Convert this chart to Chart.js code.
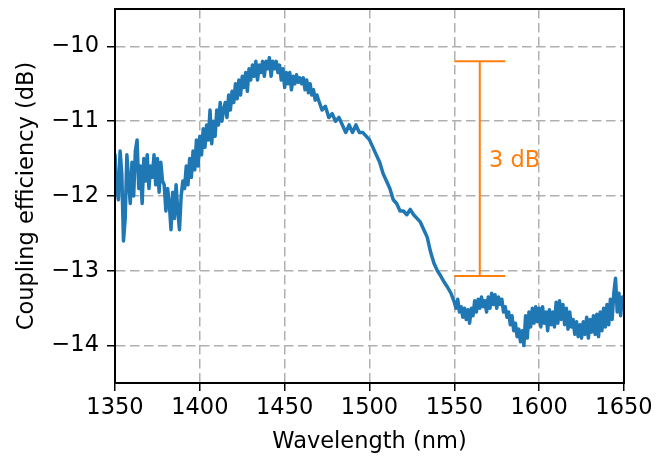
<!DOCTYPE html>
<html>
<head>
<meta charset="utf-8">
<script src="https://cdn.jsdelivr.net/npm/chart.js@4.4.1/dist/chart.umd.min.js"></script>
<style>
  html, body { margin:0; padding:0; background:#fff; }
  #wrap { width:657px; height:457px; }
</style>
</head>
<body>
<div id="wrap"><canvas id="chart"></canvas></div>
<script>
// wavelength (nm): 1 nm steps in the noisy parts, 2 nm on the smooth slope
const wavelength = [
  1350,1351,1352,1353,1354,1355,1356,1357,1358,1359,
  1360,1361,1362,1363,1364,1365,1366,1367,1368,1369,
  1370,1371,1372,1373,1374,1375,1376,1377,1378,1379,
  1380,1381,1382,1383,1384,1385,1386,1387,1388,1389,
  1390,1391,1392,1393,1394,1395,1396,1397,1398,1399,
  1400,1401,1402,1403,1404,1405,1406,1407,1408,1409,
  1410,1411,1412,1413,1414,1415,1416,1417,1418,1419,
  1420,1421,1422,1423,1424,1425,1426,1427,1428,1429,
  1430,1431,1432,1433,1434,1435,1436,1437,1438,1439,
  1440,1441,1442,1443,1444,1445,1446,1447,1448,1449,
  1450,1451,1452,1453,1454,1455,1456,1457,1458,1459,
  1460,1461,1462,1463,1464,1465,1466,1467,1468,1469,
  1470,
  1472,1474,1476,1478,1480,1482,1484,1486,1488,1490,
  1492,1494,1496,1498,1500,1502,1504,1506,1508,1510,
  1512,1514,1516,1518,1520,1522,1524,1526,1528,1530,
  1532,1534,1536,1538,1540,1542,1544,1546,1548,
  1550,1551,1552,1553,1554,1555,1556,1557,1558,1559,
  1560,1561,1562,1563,1564,1565,1566,1567,1568,1569,
  1570,1571,1572,1573,1574,1575,1576,1577,1578,1579,
  1580,1581,1582,1583,1584,1585,1586,1587,1588,1589,
  1590,1591,1592,1593,1594,1595,1596,1597,1598,1599,
  1600,1601,1602,1603,1604,1605,1606,1607,1608,1609,
  1610,1611,1612,1613,1614,1615,1616,1617,1618,1619,
  1620,1621,1622,1623,1624,1625,1626,1627,1628,1629,
  1630,1631,1632,1633,1634,1635,1636,1637,1638,1639,
  1640,1641,1642,1643,1644,1645,1646,1647,1648,1649,
  1650
];
// coupling efficiency (dB)
const coupling = [
  -11.45,-11.9,-12.05,-11.4,-11.7,-12.6,-12.3,-11.45,-11.8,-12.1,
  -11.55,-12.0,-11.4,-11.25,-11.9,-11.6,-12.1,-11.5,-11.8,-11.45,
  -11.9,-11.6,-11.75,-11.45,-11.85,-11.5,-11.95,-11.55,-11.8,-11.85,
  -12.2,-11.9,-12.1,-12.45,-11.95,-12.3,-11.85,-12.2,-12.45,-12.0,
  -11.8,-11.9,-11.6,-11.85,-11.5,-11.75,-11.4,-11.65,-11.25,-11.6,
  -11.2,-11.45,-11.1,-11.35,-11.05,-11.25,-10.85,-11.3,-11.0,-11.2,
  -10.85,-11.05,-10.75,-11.0,-10.85,-10.75,-10.95,-10.65,-10.85,-10.6,
  -10.75,-10.5,-10.7,-10.45,-10.65,-10.4,-10.55,-10.35,-10.6,-10.3,
  -10.45,-10.25,-10.4,-10.2,-10.45,-10.25,-10.35,-10.2,-10.4,-10.2,
  -10.3,-10.15,-10.4,-10.2,-10.3,-10.2,-10.35,-10.25,-10.45,-10.3,
  -10.55,-10.35,-10.5,-10.35,-10.58,-10.4,-10.5,-10.38,-10.48,-10.42,
  -10.5,-10.42,-10.58,-10.45,-10.62,-10.5,-10.65,-10.58,-10.72,-10.65,
  -10.72,
  -10.85,-10.8,-10.95,-10.9,-11.0,-10.95,-11.05,-11.15,-11.05,-11.15,
  -11.05,-11.15,-11.15,-11.2,-11.25,-11.35,-11.45,-11.55,-11.7,-11.8,
  -11.9,-12.05,-12.1,-12.2,-12.2,-12.25,-12.18,-12.25,-12.3,-12.35,
  -12.45,-12.55,-12.75,-12.9,-13.0,-13.07,-13.15,-13.22,-13.3,
  -13.42,-13.5,-13.38,-13.55,-13.48,-13.62,-13.5,-13.65,-13.52,-13.7,
  -13.5,-13.6,-13.4,-13.55,-13.38,-13.5,-13.35,-13.48,-13.4,-13.55,
  -13.35,-13.5,-13.3,-13.45,-13.32,-13.5,-13.35,-13.45,-13.38,-13.55,
  -13.48,-13.62,-13.55,-13.72,-13.6,-13.8,-13.7,-13.88,-13.78,-13.95,
  -13.8,-14.0,-13.6,-13.9,-13.55,-13.75,-13.5,-13.7,-13.48,-13.68,
  -13.5,-13.75,-13.48,-13.7,-13.55,-13.8,-13.52,-13.72,-13.55,-13.75,
  -13.42,-13.7,-13.4,-13.65,-13.45,-13.72,-13.5,-13.78,-13.55,-13.75,
  -13.65,-13.85,-13.68,-13.88,-13.72,-13.9,-13.68,-13.85,-13.62,-13.9,
  -13.65,-13.82,-13.6,-13.85,-13.58,-13.88,-13.55,-13.8,-13.5,-13.75,
  -13.45,-13.72,-13.38,-13.65,-13.3,-13.1,-13.55,-13.3,-13.6,-13.35,
  -13.5
];

const xTicks = [1350, 1400, 1450, 1500, 1550, 1600, 1650];
const yTicks = [-14, -13, -12, -11, -10];

// 3 dB bracket
const bracketX = [1550, 1580];
const bracketStem = 1565;
const bracketLevels = [-10.2, -13.07];
const bracketLabel = "3 dB";
const bracketLabelAt = [1570.5, -11.54];

const FONT = '"DejaVu Sans", sans-serif';
const FS = 22.5;

const extras = {
  id: 'extras',
  afterDatasetsDraw(chart) {
    const {ctx, chartArea: a, scales} = chart;
    ctx.save();
    ctx.fillStyle = '#ff7f0e';
    ctx.font = FS + 'px ' + FONT;
    ctx.textAlign = 'left';
    ctx.textBaseline = 'middle';
    ctx.fillText(bracketLabel, scales.x.getPixelForValue(bracketLabelAt[0]), scales.y.getPixelForValue(bracketLabelAt[1]));
    ctx.strokeStyle = '#000';
    ctx.lineWidth = 2;
    ctx.strokeRect(a.left, a.top, a.width, a.height);
    ctx.restore();
  }
};

const orange = (pts) => ({
  data: pts, borderColor: '#ff7f0e', borderWidth: 2, pointRadius: 0, fill: false
});

new Chart(document.getElementById('chart'), {
  type: 'line',
  data: {
    datasets: [
      {
        data: wavelength.map((w, i) => ({x: w, y: coupling[i]})),
        borderColor: '#1f77b4', borderWidth: 3.5, pointRadius: 0, tension: 0, fill: false,
        borderJoinStyle: 'round', borderCapStyle: 'round'
      },
      orange([{x: bracketX[0], y: bracketLevels[0]}, {x: bracketX[1], y: bracketLevels[0]}]),
      orange([{x: bracketX[0], y: bracketLevels[1]}, {x: bracketX[1], y: bracketLevels[1]}]),
      orange([{x: bracketStem, y: bracketLevels[0]}, {x: bracketStem, y: bracketLevels[1]}])
    ]
  },
  options: {
    responsive: true,
    maintainAspectRatio: false,
    animation: false,
    devicePixelRatio: 1,
    layout: {padding: {left: 0, top: 9, right: 33, bottom: 0}},
    plugins: {legend: {display: false}, tooltip: {enabled: false}},
    scales: {
      x: {
        type: 'linear', min: 1350, max: 1650,
        afterBuildTicks: s => { s.ticks = xTicks.map(v => ({value: v})); },
        afterFit: s => { s.height = 74; s.paddingLeft = 0; s.paddingRight = 0; },
        grid: {color: '#b0b0b0', lineWidth: 1.5, tickColor: '#000', tickLength: 8, tickWidth: 1.5},
        border: {color: '#000', width: 2, dash: [9.5, 4.5]},
        ticks: {color: '#000', font: {family: FONT, size: FS}, padding: 4, maxRotation: 0,
          callback: v => String(v)},
        title: {display: true, text: 'Wavelength (nm)', color: '#000', font: {family: FONT, size: FS}, padding: {top: 0, bottom: 1}}
      },
      y: {
        type: 'linear', min: -14.5, max: -9.5,
        afterBuildTicks: s => { s.ticks = yTicks.map(v => ({value: v})); },
        afterFit: s => { s.width = 115; s.paddingTop = 0; s.paddingBottom = 0; },
        grid: {color: '#b0b0b0', lineWidth: 1.5, tickColor: '#000', tickLength: 8, tickWidth: 1.5},
        border: {color: '#000', width: 2, dash: [9.5, 4.5]},
        ticks: {color: '#000', font: {family: FONT, size: FS}, padding: 8,
          callback: v => String(v).replace('-', '\u2212')},
        title: {display: true, text: 'Coupling efficiency (dB)', color: '#000', font: {family: FONT, size: FS}, padding: {top: 14, bottom: 0}}
      }
    }
  },
  plugins: [extras]
});
</script>
</body>
</html>
